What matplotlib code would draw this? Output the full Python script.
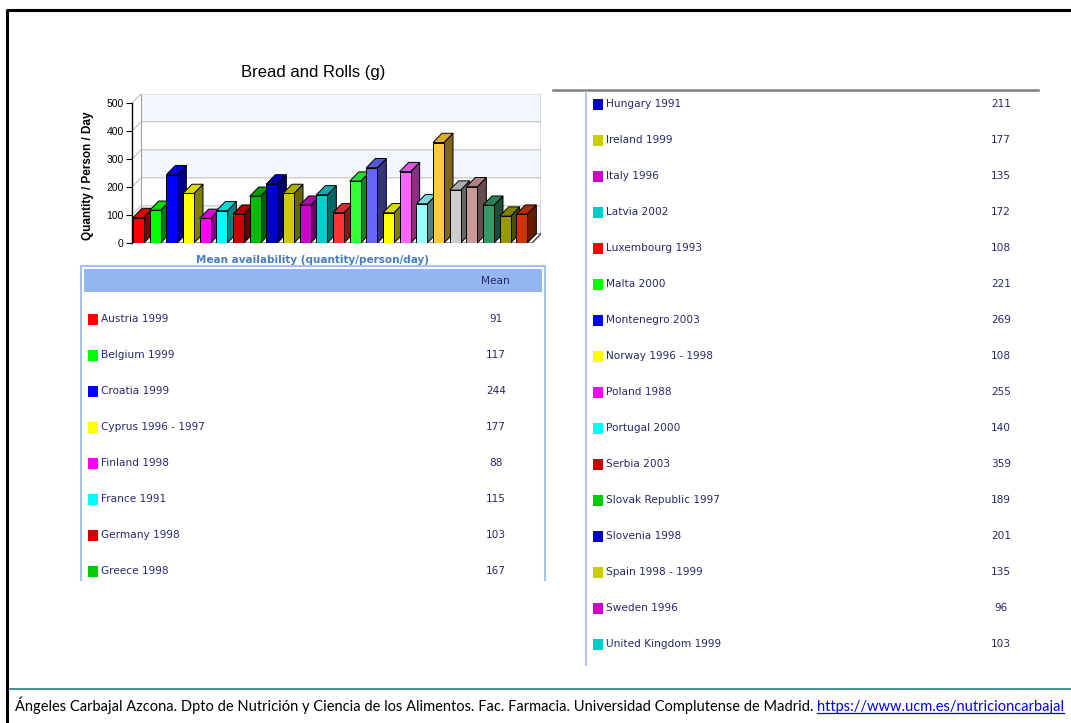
import numpy as np
import matplotlib.pyplot as plt
from matplotlib.patches import Rectangle, Polygon
from matplotlib.colors import to_rgb

countries = ['Austria 1999', 'Belgium 1999', 'Croatia 1999', 'Cyprus 1996 - 1997',
             'Finland 1998', 'France 1991', 'Germany 1998', 'Greece 1998',
             'Hungary 1991', 'Ireland 1999', 'Italy 1996', 'Latvia 2002',
             'Luxembourg 1993', 'Malta 2000', 'Montenegro 2003', 'Norway 1996 - 1998',
             'Poland 1988', 'Portugal 2000', 'Serbia 2003', 'Slovak Republic 1997',
             'Slovenia 1998', 'Spain 1998 - 1999', 'Sweden 1996', 'United Kingdom 1999']
means = [91, 117, 244, 177, 88, 115, 103, 167, 211, 177, 135, 172,
         108, 221, 269, 108, 255, 140, 359, 189, 201, 135, 96, 103]
bar_colors = ['#FF0000', '#00FF00', '#0000FF', '#FFFF00', '#FF00FF', '#00FFFF',
              '#CC0000', '#00BB00', '#0000CC', '#CCCC00', '#CC00CC', '#00CCCC',
              '#FF3333', '#33FF33', '#6666FF', '#FFFF00', '#FF66FF', '#99FFFF',
              '#FFCC33', '#CCCCCC', '#CC9999', '#339966', '#999900', '#CC3300']
legend_colors = ['#FF0000', '#00FF00', '#0000FF', '#FFFF00', '#FF00FF', '#00FFFF',
                 '#CC0000', '#00CC00', '#0000CC', '#CCCC00', '#CC00CC', '#00CCCC'] * 2
yticks = [0, 100, 200, 300, 400, 500]
title = 'Bread and Rolls (g)'
ylabel = 'Quantity / Person / Day'
subtitle = 'Mean availability (quantity/person/day)'
credit = ('Ángeles Carbajal Azcona. Dpto de Nutrición y Ciencia de los Alimentos. '
          'Fac. Farmacia. Universidad Complutense de Madrid. ')
link = 'https://www.ucm.es/nutricioncarbajal'

W, H = 1071, 723
fig = plt.figure(figsize=(W / 100, H / 100), dpi=100)
bg = fig.add_axes([0, 0, 1, 1])
bg.set_xlim(0, W)
bg.set_ylim(H, 0)
bg.axis('off')

# page frame
bg.plot([7, 7, W], [H, 10, 10], color='black', lw=2.2, solid_capstyle='butt')
bg.plot([10, W], [689, 689], color='#3F8285', lw=1.3)

# ---- 3d bar chart ----
DX, DY = 0.54, 33
n = len(means)
px_l, px_r, px_b, px_t = 132, 541, 243, 93.8
ax = fig.add_axes([px_l / W, 1 - px_b / H, (px_r - px_l) / W, (px_b - px_t) / H])
ax.set_xlim(0, n + DX)
ax.set_ylim(0, yticks[-1] + DY)
ax.patch.set_visible(False)

for lo in (0, 200, 400):
    ax.add_patch(Rectangle((DX, lo + DY), n, 100, fc='#F2F6FD', ec='none', zorder=0))
for v in yticks[1:]:
    ax.plot([0, DX, n + DX], [v, v + DY, v + DY], color='#C4C4C4', lw=0.8, zorder=1)
ax.plot([DX, DX], [DY, yticks[-1] + DY], color='#A0A0A0', lw=0.8, zorder=1)
ax.plot([n + DX, n + DX], [DY, yticks[-1] + DY], color='#606060', lw=1.0, zorder=1)
ax.add_patch(Polygon([(0, 0), (n, 0), (n + DX, DY), (DX, DY)], closed=True,
                     fc='white', ec='#909090', lw=0.8, zorder=1))
ax.plot([0, n], [0, 0], color='black', lw=1.0, zorder=2)
ax.plot([n, n + DX], [0, DY], color='#505050', lw=1.0, zorder=2)

w = 0.66
for i, (v, c) in enumerate(zip(means, bar_colors)):
    rgb = np.array(to_rgb(c))
    x0 = i + 0.06
    z = 3 + i
    ax.add_patch(Polygon([(x0 + w, 0), (x0 + w + DX, DY), (x0 + w + DX, v + DY), (x0 + w, v)],
                         closed=True, fc=rgb * 0.5, ec='black', lw=0.7, zorder=z))
    ax.add_patch(Polygon([(x0, v), (x0 + DX, v + DY), (x0 + w + DX, v + DY), (x0 + w, v)],
                         closed=True, fc=rgb * 0.85, ec='black', lw=0.7, zorder=z))
    ax.add_patch(Rectangle((x0, 0), w, v, fc=rgb, ec='black', lw=0.7, zorder=z))

for s in ['top', 'right', 'bottom']:
    ax.spines[s].set_visible(False)
ax.spines['left'].set_bounds(0, yticks[-1])
ax.spines['left'].set_linewidth(1.0)
ax.set_xticks([])
ax.set_yticks(yticks)
ax.tick_params(axis='y', length=4, width=0.8, pad=2, labelsize=7.5)
for lab in ax.get_yticklabels():
    lab.set_fontfamily('Liberation Sans')
ax.set_ylabel(ylabel, fontsize=8.5, fontweight='bold', family='Liberation Sans')
ax.yaxis.set_label_coords(-0.093, 0.45)

bg.text(313, 73, title, ha='center', va='center', fontsize=12, family='Liberation Sans')
bg.text(313, 260, subtitle, ha='center', va='center', fontsize=7.45, fontweight='bold',
        color='#4A7CC4')

# ---- tables ----
txt_col = '#27276E'
tab_edge = '#A9C0E8'
bg.plot([81, 81, 545, 545], [580, 266, 266, 580], color=tab_edge, lw=1.5)
bg.add_patch(Rectangle((84, 269), 458, 23, fc='#93B6EE', ec='none'))
bg.text(495, 281, 'Mean', ha='center', va='center', fontsize=7.6, color=txt_col)
bg.plot([553, 1038], [90, 90], color='#808080', lw=1.8)
bg.plot([586, 586], [92, 665], color=tab_edge, lw=1.3)

split = 8
for k, (name, v, c) in enumerate(zip(countries, means, legend_colors)):
    if k < split:
        y = 319 + 36 * k
        xs, xv = 88, 496
    else:
        y = 104 + 36 * (k - split)
        xs, xv = 593, 1001
    bg.add_patch(Rectangle((xs, y - 5.5), 10, 11, fc=c, ec='none'))
    bg.text(xs + 13, y, name, ha='left', va='center', fontsize=7.6, color=txt_col)
    bg.text(xv, y, str(v), ha='center', va='center', fontsize=7.6, color=txt_col)

# ---- footer ----
fig.canvas.draw()
r = fig.canvas.get_renderer()
t1 = bg.text(15, 711, credit, ha='left', va='baseline', fontsize=10, family='Lato')
t2 = bg.text(0, 711, link, ha='left', va='baseline', fontsize=10, family='Lato', color='#0000EE')
fs = 10.0
for _ in range(3):
    t1.set_fontsize(fs)
    t2.set_fontsize(fs)
    b1 = t1.get_window_extent(r)
    t2.set_x(b1.x1)
    b2 = t2.get_window_extent(r)
    fs = fs * (1067 - 15) / (b2.x1 - 15)
b2 = t2.get_window_extent(r)
bg.plot([b2.x0, b2.x1], [713] * 2, color='#0000EE', lw=0.9)

fig.savefig('out.png', dpi=100)
